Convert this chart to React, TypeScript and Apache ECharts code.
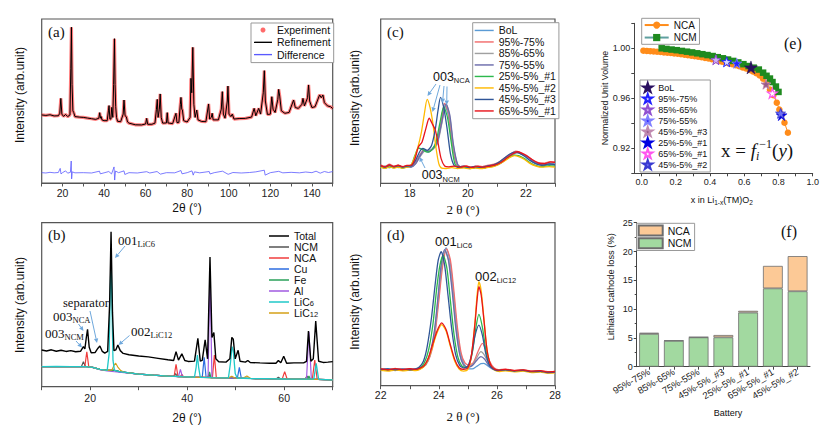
import React, { useEffect, useRef } from 'react';
import * as echarts from 'echarts';

const FS = 'Liberation Sans, Arial, sans-serif';
const SERIF = 'Liberation Serif, Times New Roman, serif';

// ---------------- (a) Rietveld refinement ----------------
const aLabels = [20, 40, 60, 80, 100, 120, 140];
const aPattern: number[][] = [
  [10, 41.5], [12, 41.2], [14, 41.6], [16, 40.9], [18, 41], [18.7, 42.5], [19.2, 51.6], [19.7, 42], [20.5, 40.6], [21.5, 41.8],
  [22.5, 40.5], [23.6, 41.5], [24.0, 70], [24.3, 95], [24.6, 60], [25.0, 44], [25.4, 43], [26, 40.5], [28, 40.2], [30, 40],
  [32, 39.6], [34, 39.2], [36, 38.8], [37.5, 39.5], [37.9, 42.9], [38.3, 39.5], [38.6, 40.5], [39, 38.5], [40, 38], [41.5, 38],
  [42.1, 44], [42.4, 47.2], [42.8, 39], [43.3, 39], [43.7, 46.1], [44.2, 40], [44.6, 60], [45.0, 88], [45.3, 60], [45.6, 46.5],
  [46.0, 40], [46.5, 37.6], [48, 37.4], [49.2, 42], [49.6, 50.6], [50.1, 41], [50.7, 40.4], [51.3, 37.2], [52, 36.5], [55, 35.5],
  [58, 35.4], [60, 36], [60.5, 39.4], [61, 35.8], [63, 35.8], [64.5, 36.5], [65.2, 45], [65.6, 51], [66, 40], [66.6, 45],
  [67.0, 54.3], [67.5, 40], [68.2, 36.5], [70, 36.6], [70.4, 42.9], [70.8, 36.6], [73, 36.2], [74.6, 42.5], [75.1, 36.8], [76, 37],
  [76.7, 48], [77.0, 52.2], [77.4, 45], [77.7, 44.5], [78.3, 38], [80, 37.2], [81.4, 40], [81.8, 63.8], [82.2, 55], [82.7, 82.7],
  [83.2, 48], [83.8, 40], [84.6, 44.5], [85.2, 38.5], [87, 37.5], [89, 37.4], [90.3, 48.2], [90.8, 39], [91.6, 40], [92, 42.5],
  [92.5, 38.5], [95, 38.5], [96.4, 45], [96.9, 55.7], [97.4, 42], [98.2, 39.5], [99.3, 50], [99.6, 59.1], [100.1, 42], [101, 40.5],
  [101.7, 42], [102.5, 39], [105, 39.3], [108, 39.4], [111, 40.2], [112.2, 45.5], [113, 41], [114.4, 45.5], [115.3, 42], [116.6, 55],
  [117.1, 68.5], [117.6, 50], [118.6, 41.8], [120, 42], [120.7, 52.6], [121.3, 45], [122.3, 43], [123.6, 51], [124.0, 57.1], [124.5, 53],
  [125.3, 44], [127, 42.5], [129, 43], [131.2, 50.6], [132, 46], [133.5, 45.5], [135.2, 48], [135.7, 51.6], [136.4, 47], [137.9, 52],
  [138.4, 59.8], [138.9, 50], [140, 46], [141.5, 46.5], [143.7, 53.7], [144.5, 52], [145.3, 53.7], [146, 49], [147.5, 47], [149, 46.5], [150, 45.4],
];
const aDifference: number[][] = [
  [10, 6.3], [12, 6.1], [14, 6.5], [16, 6.2], [18, 6.4], [18.9, 8.9], [19.3, 5.5], [20, 6.3], [21.5, 7.4], [22.5, 6], [23.8, 6.5],
  [24.2, 13.4], [24.4, 2.5], [24.7, 6.8], [26, 6.2], [30, 6.3], [34, 6.1], [37.8, 7.2], [38.2, 5.6], [40, 6.2], [42.3, 7], [43.6, 5.5],
  [44.8, 9.8], [45.1, 1.8], [45.5, 7.3], [47, 6.3], [49.6, 7.4], [50, 5.2], [52, 6.3], [56, 6.1], [60.5, 6.9], [62, 6.1], [65.5, 7],
  [67.1, 5.4], [70, 6.3], [74, 6.2], [77, 7.6], [77.5, 5.6], [80, 6.3], [82.3, 7.4], [82.9, 4.8], [83.5, 6.8], [86, 6.2], [90.6, 7],
  [91, 5.5], [93, 6.3], [97, 7.2], [99.7, 5.3], [102, 6.4], [106, 6.1], [110, 6.4], [113, 6.8], [117.1, 7.8], [117.5, 4.8], [120, 6.3],
  [124, 7.1], [126, 6.2], [130, 6.5], [134, 6.2], [137, 6.7], [140, 6.3], [142, 7.2], [144, 6], [146, 7], [148, 6.4], [150, 7],
];

// ---------------- (b) phase decomposition ----------------
const bLabels = [20, 40, 60];
const bTotal: number[][] = [
  [10, 22.4], [11, 21.8], [12, 22.5], [13, 21.6], [14, 22.2], [15, 21.5], [16, 22], [17, 21.3], [18, 21.6], [18.6, 24.4], [18.9, 23],
  [19.2, 30], [19.45, 35], [19.8, 24], [20.2, 20.7], [21, 20.8], [21.6, 23.5], [22.0, 24.8], [22.5, 21.5], [23.0, 20.5], [23.6, 21.5],
  [24.0, 50], [24.3, 94.5], [24.6, 45], [24.9, 22], [25.3, 22.5], [25.7, 25.4], [26.2, 22], [26.8, 20.3], [28, 19.5], [30, 18.7],
  [32, 18.2], [34, 17.3], [36, 16.4], [37.2, 16], [37.7, 21.4], [38.2, 16.2], [38.9, 20], [39.5, 16], [40.2, 15.4], [41.5, 15.6],
  [42.2, 29.5], [42.7, 15.6], [43.1, 16], [43.7, 28.5], [44.2, 17], [44.7, 79], [45.1, 30], [45.5, 33], [45.9, 17], [46.5, 15.2],
  [48, 15], [48.8, 17], [49.2, 30.1], [49.5, 29], [49.9, 17], [50.5, 22.2], [50.9, 15.5], [52, 15], [52.5, 16], [53, 14.8], [55, 14.5],
  [57, 14.3], [58.3, 14.3], [58.8, 16], [59.3, 14.6], [59.9, 18.6], [60.5, 14.3], [62, 14.5], [64, 14.5], [64.6, 15.5], [65.0, 33.9],
  [65.5, 15.5], [66.0, 17], [66.5, 40], [67.1, 15.5], [68, 14.8], [69, 15], [70, 15.3],
];
const bNCM: number[][] = [
  [10, 12.2], [16, 12.3], [18.2, 12.3], [18.6, 15.3], [19.0, 12.3], [20.5, 11.8], [22, 10.6], [23.5, 10], [25, 10], [26, 9.2], [28, 8.4],
  [30, 7.7], [33, 7], [36, 6.5], [37.2, 6.3], [37.6, 8], [38.0, 6.2], [41.5, 5.8], [44.2, 5.6], [44.5, 7.5], [44.8, 5.5], [48.5, 5.4],
  [53, 5], [56, 4.9], [58.4, 4.8], [58.8, 5.8], [59.2, 4.8], [63, 4.6], [64.3, 4.6], [64.7, 6.5], [65.1, 4.6], [67, 4.5], [70, 4.2],
];
const bNCA: number[][] = [
  [10, 12.2], [16, 12.3], [18.9, 12.3], [19.3, 21.3], [19.7, 12.2], [20.5, 11.8], [22, 10.6], [23.5, 10], [25, 10], [26, 9.2], [28, 8.4],
  [30, 7.7], [33, 7], [36, 6.5], [37.3, 6.3], [37.7, 13.7], [38.1, 6.2], [38.6, 6.1], [38.9, 7.5], [39.2, 6.1], [41.5, 5.8], [45.2, 5.5],
  [45.6, 19.3], [46.0, 5.5], [48.5, 5.4], [53, 5], [56, 4.9], [59.6, 4.8], [60.1, 9.2], [60.6, 4.7], [63, 4.6], [65.8, 4.6], [66.3, 16.3],
  [66.8, 4.5], [70, 4.2],
];
const bCu: number[][] = [
  [10, 12.2], [16, 12.3], [19, 12.3], [20.5, 11.8], [22, 10.6], [23.5, 10], [25, 10], [26, 9.2], [28, 8.4], [30, 7.7], [33, 7], [36, 6.5],
  [39, 6.1], [41.5, 5.8], [43.1, 5.7], [43.5, 17.9], [43.9, 5.6], [48.5, 5.4], [50.35, 5.3], [50.75, 11.8], [51.15, 5.2], [53, 5],
  [56, 4.9], [60, 4.7], [63, 4.6], [67, 4.5], [70, 4.2],
];
const bFe: number[][] = [
  [10, 12.2], [16, 12.3], [19, 12.3], [20.5, 11.8], [22, 10.6], [23.5, 10], [25, 10], [26, 9.2], [28, 8.4], [30, 7.7], [33, 7], [36, 6.5],
  [39, 6.1], [41.5, 5.8], [44.3, 5.6], [44.6, 9], [44.9, 5.5], [48.5, 5.4], [53, 5], [56, 4.9], [60, 4.7], [64.8, 4.6], [65.1, 6.5],
  [65.4, 4.6], [67, 4.5], [70, 4.2],
];
const bAl: number[][] = [
  [10, 12.2], [16, 12.3], [19, 12.3], [20.5, 11.8], [22, 10.4], [23.5, 9.6], [25, 9.1], [26, 8.8], [28, 8.2], [30, 7.7], [33, 7], [36, 6.5],
  [38.2, 6.2], [38.6, 10.6], [39.0, 6.1], [41.5, 5.8], [44.3, 5.6], [44.7, 69.1], [45.1, 5.5], [48.5, 5.4], [53, 5], [56, 4.9], [60, 4.7],
  [64.6, 4.6], [65.1, 33.5], [65.6, 4.6], [67, 4.5], [70, 4.2],
];
const bLiC6: number[][] = [
  [10, 12.2], [13, 12.4], [16, 12.3], [19, 12.3], [20.5, 11.8], [22, 10.6], [23.5, 10], [23.9, 20], [24.15, 60], [24.3, 79.3], [24.45, 55],
  [24.7, 16], [25, 10], [26, 9.2], [28, 8.4], [30, 7.7], [33, 7], [36, 6.5], [39, 6.1], [41.5, 5.8], [41.85, 12], [42.1, 19.3], [42.35, 12],
  [42.7, 5.7], [45, 5.5], [48.5, 5.4], [48.9, 14], [49.25, 24.4], [49.5, 22], [49.9, 8], [50.3, 5.3], [53, 5], [56, 4.9], [60, 4.7],
  [63, 4.6], [66.1, 4.6], [66.6, 14.3], [67.1, 4.5], [70, 4.2],
];
const bLiC12: number[][] = [
  [10, 12.2], [16, 12.3], [19, 12.3], [20.5, 11.8], [22, 10.6], [23.5, 10], [24.5, 10.2], [24.9, 13], [25.25, 14.3], [25.7, 12], [26.3, 9.8],
  [27, 8.8], [28, 8.4], [30, 7.7], [33, 7], [36, 6.5], [39, 6.1], [41.5, 5.8], [45, 5.5], [48.5, 5.4], [49.2, 6.4], [49.8, 5.3], [51.5, 5.1],
  [52.3, 6.5], [53.1, 5], [56, 4.9], [60, 4.7], [63, 4.6], [67, 4.5], [70, 4.2],
];

// ---------------- (c) 003 region ----------------
const cLabels = [18, 20, 22];
const cBoL: number[][] = [
  [17.0, 10.4], [17.15, 9.5], [17.3, 10.8], [17.45, 9.8], [17.6, 10.9], [17.75, 9.7], [17.9, 10.5], [18.05, 10.2], [18.2, 13], [18.35, 17.5],
  [18.5, 20.3], [18.65, 19], [18.8, 21.5], [18.95, 26], [19.08, 38], [19.2, 48], [19.33, 41], [19.46, 24], [19.6, 12], [19.75, 9.6],
  [19.9, 10.3], [20.1, 9.5], [20.3, 10.4], [20.5, 9.7], [20.7, 10.6], [20.9, 11.2], [21.1, 12.8], [21.3, 15.5], [21.5, 17.8], [21.65, 19.2],
  [21.8, 18.3], [22.0, 16.8], [22.2, 14], [22.4, 12.2], [22.6, 11.5], [22.8, 12.4], [23.0, 11.8],
];
const c95: number[][] = [
  [17.0, 11.2], [17.15, 10.2], [17.3, 11.6], [17.45, 10.5], [17.6, 11], [17.75, 10.1], [17.9, 10.8], [18.05, 10.4], [18.2, 12.5], [18.35, 17],
  [18.5, 20.5], [18.65, 19.5], [18.8, 21], [18.95, 25], [19.08, 37], [19.2, 48.7], [19.33, 43], [19.46, 26], [19.6, 12.5], [19.75, 10.2],
  [19.9, 10.8], [20.1, 9.8], [20.3, 10.6], [20.5, 10.2], [20.7, 11], [20.9, 11.6], [21.1, 13.2], [21.3, 15.8], [21.5, 18.2], [21.65, 19.5],
  [21.8, 18.8], [22.0, 17.2], [22.2, 14.5], [22.4, 12.8], [22.6, 12.2], [22.8, 13], [23.0, 12.6],
];
const c85: number[][] = [
  [17.0, 9.6], [17.15, 10.6], [17.3, 9.4], [17.45, 10.4], [17.6, 9.5], [17.75, 10.3], [17.9, 9.8], [18.05, 10], [18.2, 12], [18.35, 16],
  [18.5, 19.5], [18.65, 20], [18.8, 20.8], [18.95, 24], [19.1, 36], [19.25, 48], [19.38, 40], [19.5, 23], [19.65, 11], [19.8, 9.8],
  [19.95, 10.1], [20.15, 9.4], [20.35, 10], [20.55, 9.5], [20.75, 10.4], [20.95, 11], [21.15, 12.6], [21.35, 15], [21.55, 17.5], [21.7, 18.6],
  [21.85, 17.8], [22.05, 16], [22.25, 13.5], [22.45, 11.8], [22.65, 11.2], [22.85, 12], [23.0, 11.5],
];
const c75: number[][] = [
  [17.0, 10.1], [17.15, 9.3], [17.3, 10.2], [17.45, 9.6], [17.6, 10.5], [17.75, 9.4], [17.9, 10.2], [18.05, 9.9], [18.2, 11.8], [18.35, 16.5],
  [18.5, 20], [18.65, 19.2], [18.8, 21.2], [18.95, 25], [19.1, 37], [19.25, 48.3], [19.38, 41.5], [19.5, 24], [19.65, 11.5], [19.8, 9.5],
  [19.95, 10], [20.15, 9.2], [20.35, 9.9], [20.55, 9.3], [20.75, 10.2], [20.95, 10.8], [21.15, 12.4], [21.35, 15.2], [21.55, 17.8], [21.7, 19],
  [21.85, 18], [22.05, 16.2], [22.25, 13.2], [22.45, 11.5], [22.65, 11], [22.85, 11.6], [23.0, 11.2],
];
const c25n1: number[][] = [
  [17.0, 10], [17.15, 9.2], [17.3, 10.3], [17.45, 9.5], [17.6, 10.1], [17.75, 9.3], [17.9, 10], [18.05, 11], [18.18, 17], [18.3, 21.5],
  [18.45, 20.5], [18.6, 19], [18.75, 20], [18.9, 25], [19.03, 36], [19.17, 46.6], [19.3, 40], [19.42, 26], [19.55, 12], [19.7, 9.3],
  [19.85, 9.8], [20.05, 9], [20.25, 9.6], [20.45, 9.1], [20.65, 9.8], [20.85, 10.3], [21.05, 11.8], [21.25, 14], [21.45, 16.2], [21.6, 17.2],
  [21.75, 16.8], [21.95, 15], [22.15, 12.5], [22.35, 10.8], [22.55, 10.2], [22.8, 10.8], [23.0, 10.5],
];
const c45n2: number[][] = [
  [17.0, 9.8], [17.15, 9.1], [17.3, 10], [17.45, 9.3], [17.6, 9.9], [17.75, 9.2], [17.9, 9.8], [18.02, 10.5], [18.15, 15], [18.28, 22],
  [18.4, 31], [18.5, 42], [18.6, 51.1], [18.7, 46], [18.8, 36], [18.9, 22], [19.0, 12], [19.1, 9.2], [19.25, 9], [19.45, 9.5], [19.65, 9],
  [19.85, 9.4], [20.05, 8.9], [20.25, 9.4], [20.45, 8.9], [20.65, 9.5], [20.85, 10], [21.05, 11.3], [21.25, 13.5], [21.45, 15.8], [21.6, 16.8],
  [21.75, 16.2], [21.95, 14.5], [22.15, 12], [22.35, 10.5], [22.55, 9.8], [22.8, 10.2], [23.0, 9.8],
];
const c45n3: number[][] = [
  [17.0, 10.6], [17.15, 9.8], [17.3, 11], [17.45, 10], [17.6, 10.7], [17.75, 9.8], [17.9, 10.4], [18.05, 10.6], [18.2, 14], [18.35, 19.5],
  [18.45, 21.3], [18.6, 20], [18.75, 23], [18.88, 33], [18.97, 44], [19.06, 52.3], [19.17, 46], [19.28, 34], [19.4, 18], [19.52, 11],
  [19.65, 9.8], [19.85, 10.4], [20.05, 9.6], [20.25, 10.3], [20.45, 9.7], [20.65, 10.5], [20.85, 11], [21.05, 12.6], [21.25, 15.2],
  [21.45, 17.8], [21.6, 19], [21.75, 18.5], [21.95, 16.5], [22.15, 13.8], [22.35, 11.8], [22.55, 11], [22.8, 11.8], [23.0, 11.4],
];
const c65n1: number[][] = [
  [17.0, 10.8], [17.15, 10], [17.3, 11.2], [17.45, 10.2], [17.6, 11], [17.75, 10.1], [17.9, 10.9], [18.05, 11], [18.18, 15], [18.3, 22.3],
  [18.42, 25], [18.55, 33], [18.67, 39.6], [18.78, 36], [18.88, 32.4], [18.98, 24], [19.08, 15], [19.2, 10.5], [19.35, 10], [19.55, 10.5],
  [19.75, 9.8], [19.95, 10.4], [20.15, 9.7], [20.35, 10.3], [20.55, 9.8], [20.75, 10.5], [20.95, 11.2], [21.15, 12.8], [21.35, 15.5],
  [21.55, 18], [21.7, 19.2], [21.85, 18.4], [22.05, 16.5], [22.25, 14], [22.45, 12.2], [22.65, 12], [22.85, 13], [23.0, 12.8],
];

// ---------------- (d) 001 / 002 region ----------------
const dLabels = [22, 24, 26, 28];
const dBoL: number[][] = [
  [22.0, 9.8], [22.25, 10.4], [22.5, 9.6], [22.75, 10.3], [23.0, 9.7], [23.2, 10.4], [23.4, 11], [23.55, 13], [23.7, 19], [23.85, 31],
  [24.0, 55], [24.12, 75], [24.25, 84.5], [24.38, 77], [24.5, 58], [24.62, 36], [24.75, 20], [24.88, 13], [25.0, 10.5], [25.15, 10.3],
  [25.3, 11.8], [25.45, 13.5], [25.55, 13.7], [25.7, 12], [25.85, 10.2], [26.0, 9.4], [26.3, 9.8], [26.6, 9.1], [26.9, 9.5], [27.2, 8.7],
  [27.5, 8.9], [27.75, 8.2], [28.0, 8.5],
];
const d95: number[][] = [
  [22.0, 10.3], [22.25, 9.8], [22.5, 10.6], [22.75, 9.9], [23.0, 10.5], [23.2, 10], [23.4, 11.2], [23.55, 12.8], [23.7, 18], [23.85, 29],
  [24.0, 52], [24.13, 73], [24.27, 84], [24.4, 77], [24.52, 58], [24.64, 36], [24.77, 20], [24.9, 14], [25.05, 12.5], [25.2, 14.5],
  [25.35, 21], [25.5, 26], [25.62, 22], [25.75, 15], [25.9, 11], [26.05, 9.8], [26.3, 10.2], [26.6, 9.4], [26.9, 9.8], [27.2, 9],
  [27.5, 9.2], [27.75, 8.6], [28.0, 8.8],
];
const d85: number[][] = [
  [22.0, 9.5], [22.25, 9.9], [22.5, 9.3], [22.75, 9.8], [23.0, 9.4], [23.2, 9.9], [23.4, 10.8], [23.55, 12.8], [23.7, 19], [23.85, 32],
  [23.98, 54], [24.1, 74], [24.22, 83], [24.35, 76], [24.48, 57], [24.6, 35], [24.73, 19], [24.86, 12.8], [25.0, 11.5], [25.15, 12.5],
  [25.3, 17], [25.45, 20.9], [25.58, 18.5], [25.72, 13.5], [25.88, 10.5], [26.05, 9.5], [26.3, 9.7], [26.6, 9], [26.9, 9.4], [27.2, 8.6],
  [27.5, 8.8], [27.75, 8.1], [28.0, 8.3],
];
const d75: number[][] = [
  [22.0, 9.9], [22.25, 9.4], [22.5, 10.1], [22.75, 9.5], [23.0, 10], [23.2, 9.6], [23.4, 10.9], [23.55, 13.2], [23.7, 20], [23.85, 34],
  [23.98, 56], [24.08, 74], [24.2, 83.5], [24.33, 77], [24.46, 58], [24.58, 36], [24.71, 20], [24.84, 13], [24.98, 11.4], [25.15, 12.3],
  [25.3, 15.5], [25.45, 17.8], [25.58, 16.2], [25.72, 12.5], [25.88, 10.2], [26.05, 9.3], [26.3, 9.6], [26.6, 8.9], [26.9, 9.3], [27.2, 8.5],
  [27.5, 8.8], [27.75, 8], [28.0, 8.2],
];
const d25n1: number[][] = [
  [22.0, 10], [22.25, 9.5], [22.5, 10.2], [22.75, 9.6], [23.0, 10.1], [23.2, 9.7], [23.35, 11], [23.5, 14], [23.65, 22], [23.8, 38],
  [23.93, 60], [24.04, 74], [24.15, 80], [24.28, 72], [24.4, 52], [24.52, 32], [24.65, 18], [24.78, 12.5], [24.92, 11], [25.05, 13],
  [25.17, 22], [25.28, 36], [25.38, 43.8], [25.5, 36], [25.62, 22], [25.75, 13.5], [25.9, 10.2], [26.05, 9.4], [26.3, 9.7], [26.6, 9],
  [26.9, 9.4], [27.2, 8.6], [27.5, 8.8], [27.75, 8.1], [28.0, 8.3],
];
const d45n2: number[][] = [
  [22.0, 9.4], [22.25, 9], [22.5, 9.6], [22.75, 9.1], [23.0, 9.5], [23.2, 9.2], [23.35, 10], [23.5, 12], [23.65, 17], [23.8, 25],
  [23.95, 33], [24.1, 37.5], [24.25, 33.5], [24.4, 24], [24.55, 15], [24.7, 10.2], [24.85, 9], [25.0, 10], [25.12, 18], [25.24, 38],
  [25.32, 56], [25.38, 63.8], [25.46, 58], [25.56, 40], [25.66, 22], [25.78, 12.5], [25.92, 9.5], [26.1, 8.7], [26.3, 9.1], [26.6, 8.5],
  [26.9, 8.9], [27.2, 8.1], [27.5, 8.4], [27.75, 7.7], [28.0, 7.9],
];
const d45n3: number[][] = [
  [22.0, 9.9], [22.25, 10.3], [22.5, 9.7], [22.75, 10.2], [23.0, 9.8], [23.2, 10.3], [23.33, 11.5], [23.47, 15], [23.6, 24], [23.75, 42],
  [23.88, 63], [23.98, 77], [24.08, 82.2], [24.2, 74], [24.32, 55], [24.45, 34], [24.58, 19], [24.72, 12.5], [24.86, 10.8], [25.0, 12],
  [25.13, 19], [25.25, 31], [25.38, 37.2], [25.5, 31], [25.62, 19.5], [25.75, 12.5], [25.9, 10], [26.05, 9.3], [26.3, 9.7], [26.6, 9],
  [26.9, 9.4], [27.2, 8.6], [27.5, 8.8], [27.75, 8.1], [28.0, 8.3],
];
const d65n1: number[][] = [
  [22.0, 10.3], [22.25, 9.8], [22.5, 10.5], [22.75, 9.9], [23.0, 10.4], [23.2, 10], [23.35, 10.8], [23.5, 12.5], [23.65, 17.5], [23.8, 26],
  [23.95, 34], [24.1, 38.5], [24.25, 34.5], [24.4, 25], [24.55, 16], [24.7, 11], [24.85, 10], [25.0, 11], [25.12, 18.5], [25.24, 37],
  [25.32, 53], [25.38, 60.7], [25.46, 55.5], [25.56, 39], [25.66, 22], [25.78, 13], [25.92, 10.2], [26.1, 9.6], [26.3, 10], [26.6, 9.3],
  [26.9, 9.7], [27.2, 8.9], [27.5, 9.2], [27.75, 8.5], [28.0, 8.7],
];

const batteryNames = ['BoL', '95%-75%', '85%-65%', '75%-55%', '25%-5%_#1', '45%-5%_#2', '45%-5%_#3', '65%-5%_#1'];
const batteryColors = ['#5b9bd5', '#f26b6b', '#a0a0a0', '#6b6bab', '#2db84d', '#ffb900', '#2f5597', '#e8141c'];
const cCurves = [cBoL, c95, c85, c75, c25n1, c45n2, c45n3, c65n1];
const dCurves = [dBoL, d95, d85, d75, d25n1, d45n2, d45n3, d65n1];

// ---------------- (e) unit volume ----------------
const eXLabels = [0, 0.2, 0.4, 0.6, 0.8, 1.0];
const eXTicks = [0, 0.1, 0.2, 0.3, 0.4, 0.5, 0.6, 0.7, 0.8, 0.9, 1.0];
const eYLabels = [0.92, 0.96, 1.0];
const eNCA: number[][] = [
  [0.01, 0.9981], [0.03, 0.9979], [0.05, 0.9977], [0.07, 0.9975], [0.09, 0.9972], [0.11, 0.997], [0.13, 0.9967], [0.15, 0.9964],
  [0.17, 0.9962], [0.19, 0.9959], [0.21, 0.9956], [0.23, 0.9952], [0.25, 0.9949], [0.27, 0.9945], [0.29, 0.9941], [0.31, 0.9937],
  [0.33, 0.9933], [0.35, 0.9928], [0.37, 0.9923], [0.39, 0.9918], [0.41, 0.9912], [0.43, 0.9906], [0.45, 0.9899], [0.47, 0.9893],
  [0.49, 0.9886], [0.51, 0.9879], [0.53, 0.9872], [0.55, 0.9864], [0.57, 0.9856], [0.59, 0.9847], [0.61, 0.9838], [0.63, 0.9827],
  [0.65, 0.9815], [0.67, 0.98], [0.69, 0.9782], [0.71, 0.9756], [0.73, 0.9718], [0.75, 0.967], [0.77, 0.9625], [0.79, 0.9565],
  [0.805, 0.951], [0.82, 0.947], [0.835, 0.9405], [0.855, 0.9325],
];
const eNCM: number[][] = [
  [0.117, 1.0], [0.145, 0.9995], [0.175, 0.999], [0.205, 0.9985], [0.235, 0.9979], [0.265, 0.9973], [0.295, 0.9967], [0.325, 0.996],
  [0.355, 0.9953], [0.385, 0.9946], [0.415, 0.9938], [0.445, 0.9929], [0.475, 0.992], [0.505, 0.991], [0.535, 0.9899], [0.565, 0.9887],
  [0.595, 0.9873], [0.625, 0.9858], [0.655, 0.9845], [0.685, 0.983], [0.71, 0.9805], [0.73, 0.978], [0.75, 0.9758], [0.765, 0.973],
  [0.785, 0.9694], [0.8, 0.9651],
];
const starX = [0.639, 0.497, 0.434, 0.556, 0.727, 0.818, 0.764, 0.812];
const starY = [0.9847, 0.9892, 0.9908, 0.988, 0.9713, 0.9465, 0.9641, 0.948];
const starNames = ['BoL', '95%-75%', '85%-65%', '75%-55%', '45%-5%_#3', '25%-5%_#1', '65%-5%_#1', '45%-5%_#2'];

// ---------------- (f) lithiated cathode loss ----------------
const fCats = ['95%-75%', '85%-65%', '75%-55%', '45%-5%_#3', '25%-5%_#1', '65%-5%_#1', '45%-5%_#2'];
const fNCM = [5.7, 4.5, 5.1, 5.1, 9.4, 13.6, 13.1];
const fNCA = [0.2, 0.05, 0.05, 0.4, 0.3, 3.9, 6.1];

const STAR = 'path://M50,0 L61.2,34.5 L97.6,34.5 L68.2,55.9 L79.4,90.5 L50,69.1 L20.6,90.5 L31.8,55.9 L2.4,34.5 L38.8,34.5 Z';
const LINE_ICON = 'path://M0,0 L40,0 L40,3 L0,3 Z';
const starStyles = [
  { color: '#2a1060', borderColor: '#2a1060', borderWidth: 0.5, size: 13 },
  { color: '#d8d8ff', borderColor: '#2020ff', borderWidth: 1, size: 10 },
  { color: '#d0b0f4', borderColor: '#9050d0', borderWidth: 1, size: 10 },
  { color: '#2525ff', borderColor: '#8080ff', borderWidth: 0.8, size: 10 },
  { color: '#9a5a8a', borderColor: '#c08ab0', borderWidth: 0.8, size: 10 },
  { color: '#0000e0', borderColor: '#0000e0', borderWidth: 0.5, size: 11 },
  { color: '#ffffff', borderColor: '#ff55ee', borderWidth: 1.2, size: 10 },
  { color: '#7070f0', borderColor: '#3a3ad0', borderWidth: 0.8, size: 10 },
];

const strip = (n: string) => n.slice(n.indexOf(':') + 1);
const near = (arr: number[], v: number) => arr.some((a) => Math.abs(a - v) < 1e-6);

function buildOption() {
  const frame = (left: number, top: number, width: number, height: number) => ({
    left, top, width, height, show: true, borderColor: '#555', borderWidth: 1.2, backgroundColor: 'transparent',
    containLabel: false, outerBoundsMode: 'none',
  });
  const xVal = (gridIndex: number, min: number, max: number, interval: number, labels: number[], margin: number) => ({
    type: 'value', gridIndex, min, max, interval,
    axisLine: { show: true, lineStyle: { color: '#555', width: 1.2 } },
    axisTick: { show: true, length: 3.5, lineStyle: { color: '#555', width: 1 } },
    axisLabel: {
      fontFamily: FS, fontSize: 10.5, color: '#222', margin,
      formatter: (v: number) => (near(labels, v) ? String(v) : ''),
    },
    splitLine: { show: false },
  });
  const yHidden = (gridIndex: number) => ({ type: 'value', gridIndex, min: 0, max: 100, show: false, splitLine: { show: false } });

  const ln = (name: string, data: number[][], idx: number, color: string, width = 1.2, extra: any = {}) => ({
    type: 'line', name, data, xAxisIndex: idx, yAxisIndex: idx, symbol: 'none', showSymbol: false,
    lineStyle: { color, width }, itemStyle: { color }, silent: true, ...extra,
  });

  const series: any[] = [
    ln('a:Experiment', aPattern, 0, 'rgba(255,80,80,0.75)', 3.2),
    ln('a:Refinement', aPattern, 0, '#000000', 1),
    ln('a:Difference', aDifference, 0, '#5a5aff', 0.8),
    ln('b:NCM', bNCM, 1, '#555555', 1.2),
    ln('b:NCA', bNCA, 1, '#f03c3c', 1.2),
    ln('b:Cu', bCu, 1, '#2d6de0', 1.2),
    ln('b:Fe', bFe, 1, '#2aa05a', 1.2),
    ln('b:Al', bAl, 1, '#a05ae0', 1.2),
    ln('b:LiC12', bLiC12, 1, '#d4a017', 1.2),
    ln('b:LiC6', bLiC6, 1, '#20c8c8', 1.3),
    ln('b:Total', bTotal, 1, '#000000', 1.4),
  ];
  cCurves.forEach((d, i) => series.push(ln('c:' + batteryNames[i], d, 2, batteryColors[i], 1.3, { smooth: 0.25 })));
  dCurves.forEach((d, i) => series.push(ln('d:' + batteryNames[i], d, 3, batteryColors[i], 1.3, { smooth: 0.25 })));
  series.push({
    type: 'line', name: 'e:NCA', data: eNCA, xAxisIndex: 4, yAxisIndex: 4, symbol: 'circle', symbolSize: 6.5,
    itemStyle: { color: '#ff8c1a' }, lineStyle: { color: '#ff8c1a', width: 1 }, z: 3, silent: true,
  });
  series.push({
    type: 'line', name: 'e:NCM', data: eNCM, xAxisIndex: 4, yAxisIndex: 4, symbol: 'rect', symbolSize: 6.5,
    itemStyle: { color: '#1f8a1f' }, lineStyle: { color: '#5fa0a0', width: 1 }, z: 4, silent: true,
  });
  starNames.forEach((n, i) => {
    const s = starStyles[i];
    series.push({
      type: 'scatter', name: 'e:' + n, data: [[starX[i], starY[i]]], xAxisIndex: 4, yAxisIndex: 4,
      symbol: STAR, symbolSize: s.size, z: 6, silent: true,
      itemStyle: { color: s.color, borderColor: s.borderColor, borderWidth: s.borderWidth, opacity: 1 },
    });
  });
  series.push({
    type: 'bar', name: 'f:NCM', data: fNCM, stack: 'f', xAxisIndex: 5, yAxisIndex: 5, barWidth: '80%',
    itemStyle: { color: '#a2d9a0', borderColor: '#6d6d6d', borderWidth: 0.8 }, silent: true,
  });
  series.push({
    type: 'bar', name: 'f:NCA', data: fNCA, stack: 'f', xAxisIndex: 5, yAxisIndex: 5, barWidth: '80%',
    itemStyle: { color: '#fcc996', borderColor: '#6d6d6d', borderWidth: 0.8 }, silent: true,
  });

  const lineItem = (name: string, color: string) => ({ name, icon: LINE_ICON, itemStyle: { color, borderWidth: 0 } });
  const bNames = ['Total', 'NCM', 'NCA', 'Cu', 'Fe', 'Al', 'LiC6', 'LiC12'];
  const bColors = ['#000000', '#555555', '#f03c3c', '#2d6de0', '#2aa05a', '#a05ae0', '#20c8c8', '#d4a017'];
  const lgText = (size: number, lh: number) => ({ fontFamily: FS, fontSize: size, color: '#111', lineHeight: lh });
  const legend: any[] = [
    {
      data: [
        { name: 'a:Experiment', icon: 'circle', itemStyle: { color: '#ff6a6a' } },
        lineItem('a:Refinement', '#000000'),
        lineItem('a:Difference', '#5a5aff'),
      ],
      orient: 'vertical', left: 251, top: 23, itemWidth: 18, itemHeight: 5, itemGap: 0.3,
      padding: [1, 3, 2, 3], borderColor: '#999', borderWidth: 1, borderRadius: 0, backgroundColor: '#fff',
      textStyle: lgText(10.5, 12), formatter: strip, selectedMode: false,
    },
    {
      data: bNames.map((n, i) => lineItem('b:' + n, bColors[i])),
      orient: 'vertical', left: 269, top: 230.5, itemWidth: 20, itemHeight: 6, itemGap: 0, padding: 0,
      textStyle: { ...lgText(10.5, 11), rich: { s: { fontFamily: FS, fontSize: 7.5, lineHeight: 6, verticalAlign: 'bottom', color: '#111' } } },
      formatter: (n: string) => {
        const t = strip(n);
        if (t === 'LiC6') return 'LiC{s|6}';
        if (t === 'LiC12') return 'LiC{s|12}';
        return t;
      },
      selectedMode: false,
    },
    {
      data: batteryNames.map((n, i) => lineItem('c:' + n, batteryColors[i])),
      orient: 'vertical', left: 472.7, top: 22.7, itemWidth: 19, itemHeight: 6, itemGap: 0,
      padding: [2, 3, 2, 2], borderColor: '#999', borderWidth: 1, borderRadius: 0, backgroundColor: '#fff',
      textStyle: lgText(10.5, 11.5), formatter: strip, selectedMode: false,
    },
    {
      data: ['e:NCA', 'e:NCM'],
      orient: 'vertical', left: 641.7, top: 18.3, itemWidth: 24, itemHeight: 9, itemGap: 0,
      padding: [0.5, 3, 0.5, 2], borderColor: '#999', borderWidth: 1, borderRadius: 0, backgroundColor: '#fff',
      textStyle: lgText(10, 12.5), formatter: strip, selectedMode: false,
    },
    {
      data: starNames.map((n) => 'e:' + n),
      orient: 'vertical', left: 640, top: 80, itemWidth: 11, itemHeight: 9, itemGap: 0,
      padding: [2, 3, 2, 2], borderColor: '#999', borderWidth: 1, borderRadius: 0, backgroundColor: '#fff',
      textStyle: lgText(9, 10.7), formatter: strip, selectedMode: false,
    },
    {
      data: [{ name: 'f:NCA', icon: 'rect' }, { name: 'f:NCM', icon: 'rect' }],
      orient: 'vertical', left: 636.7, top: 223.3, itemWidth: 24, itemHeight: 10, itemGap: 0,
      padding: [1, 3, 1, 1], borderColor: '#999', borderWidth: 1, borderRadius: 0, backgroundColor: '#fff',
      textStyle: lgText(10.5, 12.6), formatter: strip, selectedMode: false,
    },
  ];

  // ---------- graphic annotations ----------
  const T = (x: number, y: number, text: string, o: any = {}) => ({
    type: 'text', x, y, z: 100, silent: true,
    style: { text, fill: '#111', fontFamily: FS, fontSize: 12, align: 'left', verticalAlign: 'middle', ...o },
  });
  const V = (x: number, y: number, text: string, size: number) => ({
    type: 'text', x, y, rotation: Math.PI / 2, z: 100, silent: true,
    style: { text, fill: '#111', fontFamily: FS, fontSize: size, align: 'center', verticalAlign: 'middle' },
  });
  const subRich = (family: string, big: number, small: number, lh: number) => ({
    m: { fontFamily: family, fontSize: big, lineHeight: lh, fill: '#111' },
    s: { fontFamily: family, fontSize: small, lineHeight: lh / 2, verticalAlign: 'bottom', fill: '#111' },
  });
  const arrow = (x1: number, y1: number, x2: number, y2: number) => {
    const a = Math.atan2(y2 - y1, x2 - x1);
    const L = 4.5, W = 2.2;
    const bx = x2 - L * Math.cos(a), by = y2 - L * Math.sin(a);
    const px = -Math.sin(a) * W, py = Math.cos(a) * W;
    return [
      { type: 'line', z: 100, silent: true, shape: { x1, y1, x2: bx, y2: by }, style: { stroke: '#6fa8dc', lineWidth: 1 } },
      { type: 'polygon', z: 100, silent: true, shape: { points: [[x2, y2], [bx + px, by + py], [bx - px, by - py]] }, style: { fill: '#6fa8dc' } },
    ];
  };

  const graphic: any[] = [
    T(48, 32, '(a)', { fontFamily: SERIF, fontSize: 15 }),
    T(48, 235, '(b)', { fontFamily: SERIF, fontSize: 15 }),
    T(387, 31.7, '(c)', { fontFamily: SERIF, fontSize: 15 }),
    T(387, 235, '(d)', { fontFamily: SERIF, fontSize: 15 }),
    T(784, 43.5, '(e)', { fontFamily: SERIF, fontSize: 16 }),
    T(781, 231.7, '(f)', { fontFamily: SERIF, fontSize: 16 }),
    V(19.5, 95, 'Intensity (arb.unit)', 12),
    V(19.5, 305, 'Intensity (arb.unit)', 12),
    V(355, 98, 'Intensity (arb.unit)', 12),
    V(355, 301.7, 'Intensity (arb.unit)', 12),
    V(605, 98, 'Normalized Unit Volume', 8.8),
    V(611, 286.7, 'Lithiated cathode loss (%)', 9.3),
    T(187, 208, '2θ (°)', { fontSize: 12, align: 'center' }),
    T(187, 418, '2θ (°)', { fontSize: 12, align: 'center' }),
    T(463, 209, '2 θ (°)', { fontFamily: SERIF, fontSize: 13, align: 'center' }),
    T(463, 416, '2 θ (°)', { fontFamily: SERIF, fontSize: 13, align: 'center' }),
    T(728, 413, 'Battery', { fontSize: 9, align: 'center' }),
    T(721.7, 200, '{m|x in Li}{s|1-x}{m|(TM)O}{s|2}', { align: 'center', rich: subRich(FS, 9, 6.5, 12) }),
    T(721, 150, '{m|x = }{i|f}{s|i}{p|−1}{m|(}{i|y}{m|)}', {
      rich: {
        m: { fontFamily: SERIF, fontSize: 19, lineHeight: 24, fill: '#111' },
        i: { fontFamily: SERIF, fontSize: 19, fontStyle: 'italic', lineHeight: 24, fill: '#111' },
        s: { fontFamily: SERIF, fontSize: 12, fontStyle: 'italic', lineHeight: 10, verticalAlign: 'bottom', fill: '#111' },
        p: { fontFamily: SERIF, fontSize: 12, lineHeight: 10, verticalAlign: 'top', fill: '#111' },
      },
    }),
    // (b) annotations
    T(118, 240, '{m|001}{s|LiC6}', { rich: subRich(SERIF, 13, 8.5, 16) }),
    T(63, 303.3, 'separator', { fontFamily: SERIF, fontSize: 12.5 }),
    T(53, 316.7, '{m|003}{s|NCA}', { rich: subRich(SERIF, 13, 8.5, 16) }),
    T(45, 333.3, '{m|003}{s|NCM}', { rich: subRich(SERIF, 13, 8.5, 16) }),
    T(131, 331.7, '{m|002}{s|LiC12}', { rich: subRich(SERIF, 13, 8.5, 16) }),
    ...arrow(125, 246, 115, 258),
    ...arrow(90, 311, 97, 343),
    ...arrow(78.5, 324, 83.5, 331),
    ...arrow(76, 341, 82, 347.5),
    ...arrow(129.5, 335.5, 118.5, 345),
    // (c) annotations
    T(433, 76.7, '{m|003}{s|NCA}', { rich: subRich(FS, 12.5, 7.5, 16) }),
    T(421.7, 175, '{m|003}{s|NCM}', { rich: subRich(FS, 12.5, 7.5, 16) }),
    ...arrow(436, 84, 427.5, 96),
    ...arrow(440, 85, 432.5, 112),
    ...arrow(444, 86, 442.5, 103),
    ...arrow(447, 86.5, 446.7, 105),
    ...arrow(425, 168, 419.5, 157),
    // (d) annotations
    T(435, 241.7, '{m|001}{s|LiC6}', { rich: subRich(FS, 13, 7.5, 16) }),
    T(475, 276.7, '{m|002}{s|LiC12}', { rich: subRich(FS, 13, 7.5, 16) }),
  ];

  return {
    animation: false,
    backgroundColor: '#ffffff',
    textStyle: { fontFamily: FS },
    grid: [
      frame(41.7, 19, 291, 164),
      frame(41.7, 222.7, 291, 164),
      frame(380.7, 19, 174.3, 164.3),
      frame(380.7, 222.7, 174.3, 163),
      { left: 634.3, top: 23.3, width: 178.4, height: 150, containLabel: false, outerBoundsMode: 'none' },
      { left: 636.7, top: 222.7, width: 173.3, height: 144, containLabel: false, outerBoundsMode: 'none' },
    ],
    xAxis: [
      xVal(0, 10, 150, 10, aLabels, 4),
      xVal(1, 10, 70, 10, bLabels, 5.5),
      xVal(2, 17, 23, 1, cLabels, 4),
      xVal(3, 22, 28, 1, dLabels, 4),
      {
        type: 'value', gridIndex: 4, min: -0.043, max: 1.0,
        axisLine: { show: true, onZero: false, lineStyle: { color: '#444', width: 1 } },
        axisTick: { show: true, length: 3, customValues: eXTicks, lineStyle: { color: '#444' } },
        axisLabel: { fontFamily: FS, fontSize: 9, color: '#222', margin: 4, customValues: eXLabels, formatter: (v: number) => v.toFixed(1) },
        splitLine: { show: false },
      },
      {
        type: 'category', gridIndex: 5, data: fCats,
        axisLine: { show: true, lineStyle: { color: '#444', width: 1 } },
        axisTick: { show: true, length: 3, alignWithLabel: true, lineStyle: { color: '#444' } },
        axisLabel: { fontFamily: FS, fontSize: 9.5, color: '#222', margin: 4, rotate: 30, interval: 0 },
      },
    ],
    yAxis: [
      yHidden(0), yHidden(1), yHidden(2), yHidden(3),
      {
        type: 'value', gridIndex: 4, min: 0.9, max: 1.02, interval: 0.02,
        axisLine: { show: true, onZero: false, lineStyle: { color: '#444', width: 1 } },
        axisTick: { show: true, length: 3, lineStyle: { color: '#444' } },
        axisLabel: { fontFamily: FS, fontSize: 9, color: '#222', margin: 4, formatter: (v: number) => (near(eYLabels, v) ? v.toFixed(2) : '') },
        splitLine: { show: false },
      },
      {
        type: 'value', gridIndex: 5, min: 0, max: 25, interval: 5,
        axisLine: { show: true, lineStyle: { color: '#444', width: 1 } },
        axisTick: { show: true, length: 3, lineStyle: { color: '#444' } },
        minorTick: { show: true, splitNumber: 2, length: 2, lineStyle: { color: '#444' } },
        axisLabel: { fontFamily: FS, fontSize: 9, color: '#222', margin: 4 },
        splitLine: { show: false },
      },
    ],
    legend,
    series,
    graphic,
  };
}

export default function App() {
  const ref = useRef<HTMLDivElement>(null);
  useEffect(() => {
    if (!ref.current) return;
    const chart = echarts.init(ref.current, null, { renderer: 'svg', width: 837, height: 432 });
    chart.setOption(buildOption() as any);
    return () => chart.dispose();
  }, []);
  return (
    <div
      ref={ref}
      style={{ position: 'absolute', left: 0, top: 0, width: 837, height: 432, background: '#fff' }}
    />
  );
}
